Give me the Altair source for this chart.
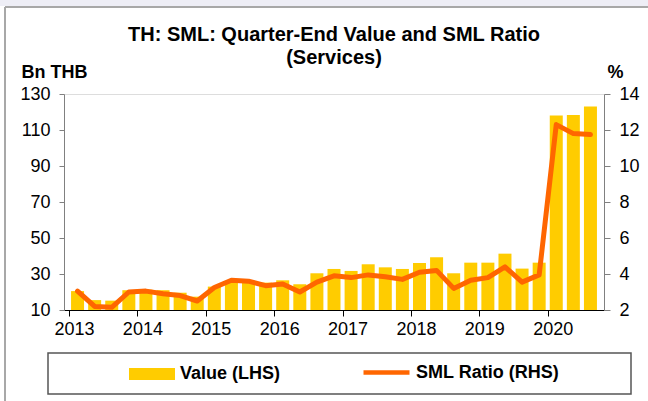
import altair as alt
import pandas as pd

FONT = "Liberation Sans, Arial, sans-serif"

years = ["2013", "2014", "2015", "2016", "2017", "2018", "2019", "2020"]
quarters = [f"{y}Q{q}" for y in years for q in range(1, 5)][:31]
values = [20.5, 15.5, 15.2, 21.0, 21.3, 21.0, 19.6, 17.4,
          23.0, 25.7, 26.0, 25.2, 26.5, 24.3, 30.4, 32.8,
          31.7, 35.4, 33.7, 32.8, 36.1, 39.3, 30.4, 36.3,
          36.3, 41.3, 33.0, 36.3, 118.0, 118.3, 123.0]
ratio = [3.05, 2.2, 2.15, 3.0, 3.05, 2.9, 2.8, 2.5,
         3.25, 3.65, 3.6, 3.35, 3.45, 3.0, 3.55, 3.9,
         3.8, 3.95, 3.85, 3.7, 4.1, 4.2, 3.2, 3.65,
         3.8, 4.4, 3.55, 3.95, 12.3, 11.8, 11.75]

df = pd.DataFrame({
    "quarter": quarters,
    "pos": [i + 0.5 for i in range(len(quarters))],
    "value": values,
    "ratio": ratio,
    "s_bar": "Value (LHS)",
    "s_line": "SML Ratio (RHS)",
})

label_expr = "[" + ",".join(f"'{y}'" for y in years) + "][round(datum.value/4)]"

xenc = alt.X("pos:Q",
             scale=alt.Scale(domain=[0, 31], nice=False, zero=False),
             axis=alt.Axis(values=[0, 4, 8, 12, 16, 20, 24, 28], labelExpr=label_expr,
                           title=None, grid=False, domainColor="#000000", tickColor="#000000",
                           tickSize=6, labelOffset=5, labelPadding=4, labelFontSize=18,
                           labelFont=FONT, labelColor="#000000", labelOverlap=False,
                           labelFlush=False, domainWidth=1.2))

base = alt.Chart(df)

bars = base.mark_bar(size=13).encode(
    x=xenc,
    y=alt.Y("value:Q", scale=alt.Scale(domain=[10, 130], nice=False, zero=False),
            axis=alt.Axis(values=list(range(10, 131, 20)), grid=False, title="Bn THB",
                          titleAngle=0, titleX=-43, titleY=-17, titleAlign="left",
                          titleBaseline="alphabetic", titleFontSize=18, titleFont=FONT,
                          titleFontWeight="bold", titleColor="#000000",
                          domainColor="#808080", tickColor="#808080", tickSize=5,
                          labelPadding=9, labelFontSize=18, labelFont=FONT,
                          labelColor="#000000")),
    y2=alt.datum(10),
    fill=alt.Fill("s_bar:N", scale=alt.Scale(domain=["Value (LHS)"], range=["#FFCC00"]),
                  legend=alt.Legend(orient="none", legendX=65, legendY=257, title=None,
                                    symbolType="M-1,-0.26H1V0.26H-1Z", symbolSize=2116,
                                    symbolStrokeWidth=0, labelFontSize=18, labelFont=FONT,
                                    labelFontWeight="bold", labelColor="#000000",
                                    labelOffset=5, padding=0)),
)

line = base.mark_line(strokeWidth=5, strokeJoin="round", strokeCap="round").encode(
    x=xenc,
    y=alt.Y("ratio:Q", scale=alt.Scale(domain=[2, 14], nice=False, zero=False),
            axis=alt.Axis(orient="right", values=list(range(2, 15, 2)), grid=False, title="%",
                          titleAngle=0, titleX=3, titleY=-17, titleAlign="left",
                          titleBaseline="alphabetic", titleFontSize=18, titleFont=FONT,
                          titleFontWeight="bold", titleColor="#000000",
                          domainColor="#808080", tickColor="#808080", tickSize=6,
                          labelPadding=9, labelFontSize=18, labelFont=FONT,
                          labelColor="#000000")),
    stroke=alt.Stroke("s_line:N", scale=alt.Scale(domain=["SML Ratio (RHS)"], range=["#FF6600"]),
                      legend=alt.Legend(orient="none", legendX=297, legendY=253, title=None,
                                        symbolType="stroke", symbolSize=2116,
                                        symbolStrokeWidth=4.5, labelFontSize=18, labelFont=FONT,
                                        labelFontWeight="bold", labelColor="#000000",
                                        labelOffset=4, padding=0)),
)

deco = pd.DataFrame({"k": [0]})
legend_box = alt.Chart(deco).mark_rect(filled=False, stroke="#555555", strokeWidth=1.5).encode(
    x=alt.value(-16), x2=alt.value(567), y=alt.value(259), y2=alt.value(300))
top_strip = alt.Chart(deco).mark_rect(fill="#EEEEF6").encode(
    x=alt.value(-64), x2=alt.value(584), y=alt.value(-94), y2=alt.value(-88))
top_line = alt.Chart(deco).mark_rule(color="#A8A8A8", strokeWidth=2).encode(
    x=alt.value(-59), x2=alt.value(584), y=alt.value(-87))
left_line = alt.Chart(deco).mark_rule(color="#A8A8A8", strokeWidth=2).encode(
    x=alt.value(-59), y=alt.value(-87), y2=alt.value(307))

chart = alt.layer(top_strip, top_line, left_line, legend_box, bars, line).resolve_scale(
    y="independent", fill="independent", stroke="independent"
).properties(
    width=540, height=216,
    autosize=alt.AutoSizeParams(type="none"),
    padding={"left": 64, "top": 94, "right": 44, "bottom": 91},
    title=alt.TitleParams(["TH: SML: Quarter-End Value and SML Ratio", "(Services)"],
                          font=FONT, fontSize=20, fontWeight="bold", color="#000000",
                          anchor="middle", lineHeight=23, offset=-68),
).configure_view(stroke=None).configure(background="#FFFFFF")

chart.save("out.html", embed_options={"renderer": "svg", "actions": False})
